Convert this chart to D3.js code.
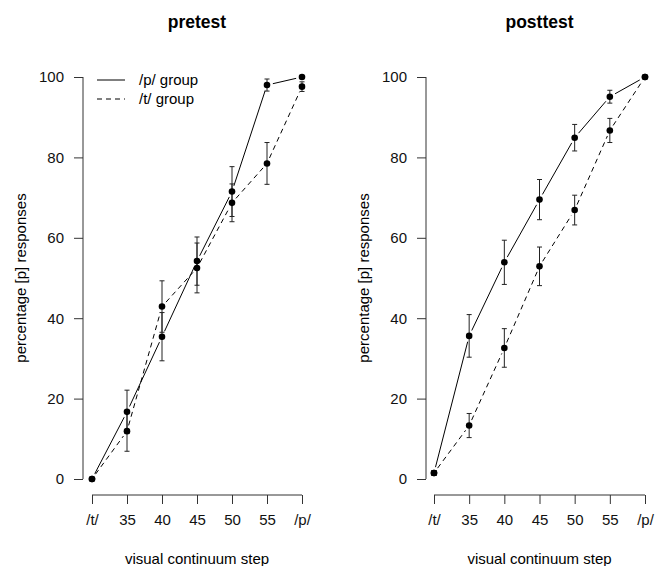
<!DOCTYPE html>
<html>
<head>
<meta charset="utf-8">
<script src="https://cdn.jsdelivr.net/npm/d3@7"></script>
<style>
  body { margin: 0; background: #fff; }
  svg { display: block; font-family: "Liberation Sans", Arial, Helvetica, sans-serif; }
</style>
</head>
<body>
<div id="chart"></div>
<script>
// continuum steps on the x axis
const steps = ["/t/", "35", "40", "45", "50", "55", "/p/"];
const yTicks = [0, 20, 40, 60, 80, 100];

// pretest, percentage [p] responses
const preP = [0, 16.7, 35.4, 54.2, 71.5, 98, 100];
const preT = [0, 11.9, 42.9, 52.5, 68.7, 78.5, 97.6];
const preErrP = [0, 5.4, 6, 6, 6.2, 1.5, 0];
const preErrT = [0, 5, 6.4, 6.2, 4.7, 5.2, 1.2];

// posttest
const postP = [1.5, 35.6, 53.9, 69.5, 84.9, 95.1, 100];
const postT = [1.5, 13.3, 32.6, 52.9, 66.9, 86.7, 100];
const postErrP = [0.6, 5.3, 5.5, 5, 3.3, 1.6, 0];
const postErrT = [0.6, 3, 4.8, 4.8, 3.7, 3, 0];

const groups = ["/p/ group", "/t/ group"];

const W = 655, H = 566;
const svg = d3.select("#chart").append("svg")
    .attr("width", W)
    .attr("height", H);

const panels = [
    { title: "pretest", x0: 92, x1: 302, axisX: 83, series: [preP, preT], errs: [preErrP, preErrT], legend: true },
    { title: "posttest", x0: 434, x1: 645, axisX: 426, series: [postP, postT], errs: [postErrP, postErrT], legend: false }
];

const y = d3.scaleLinear().domain([0, 100]).range([479, 77]);
const dashes = [null, "5,4"];

function drawPanel(p) {
    const g = svg.append("g");
    const x = d3.scalePoint().domain(steps).range([p.x0, p.x1]);

    // title
    g.append("text")
        .attr("x", (p.x0 + p.x1) / 2)
        .attr("y", 28)
        .attr("text-anchor", "middle")
        .style("font-size", "17.5px")
        .style("font-weight", "bold")
        .text(p.title);

    // y axis (R style: line only across the tick range)
    const yAxis = g.append("g")
        .attr("transform", "translate(" + p.axisX + ",0)")
        .call(d3.axisLeft(y).tickValues(yTicks).tickSize(9).tickPadding(10).tickSizeOuter(0));
    yAxis.select(".domain").attr("d", "M0," + y(0) + "V" + y(100)).attr("stroke", "#333");
    yAxis.selectAll(".tick line").attr("stroke", "#333");
    yAxis.selectAll(".tick text")
        .style("font-size", "15px")
        .attr("fill", "#111");

    g.append("text")
        .attr("transform", "translate(" + (p.axisX - 62) + "," + 278 + ") rotate(-90)")
        .attr("text-anchor", "middle")
        .attr("dy", "0.35em")
        .style("font-size", "15px")
        .text("percentage [p] responses");

    // x axis
    const xAxis = g.append("g")
        .attr("transform", "translate(0,495)")
        .call(d3.axisBottom(x).tickSize(9).tickPadding(10).tickSizeOuter(0));
    xAxis.select(".domain").attr("d", "M" + p.x0 + ",0H" + p.x1).attr("stroke", "#333");
    xAxis.selectAll(".tick line").attr("stroke", "#333");
    xAxis.selectAll(".tick text")
        .style("font-size", "15px")
        .attr("fill", "#111");

    g.append("text")
        .attr("x", (p.x0 + p.x1) / 2)
        .attr("y", 564)
        .attr("text-anchor", "middle")
        .style("font-size", "15px")
        .text("visual continuum step");

    // lines with gaps around points (type = "b")
    const gap = 6;
    p.series.forEach((vals, si) => {
        const pts = vals.map((v, i) => [x(steps[i]), y(v)]);
        for (let i = 0; i < pts.length - 1; i++) {
            const a = pts[i], b = pts[i + 1];
            const dx = b[0] - a[0], dy = b[1] - a[1];
            const len = Math.sqrt(dx * dx + dy * dy);
            if (len <= 2 * gap) continue;
            const ux = dx / len, uy = dy / len;
            g.append("line")
                .attr("x1", a[0] + ux * gap).attr("y1", a[1] + uy * gap)
                .attr("x2", b[0] - ux * gap).attr("y2", b[1] - uy * gap)
                .attr("stroke", "#000")
                .attr("stroke-width", 1)
                .attr("stroke-dasharray", dashes[si]);
        }
    });

    // error bars
    const cap = 2.5;
    p.series.forEach((vals, si) => {
        vals.forEach((v, i) => {
            const e = p.errs[si][i];
            if (!e) return;
            const cx = x(steps[i]);
            const top = y(v + e), bot = y(v - e);
            g.append("path")
                .attr("d", "M" + cx + "," + top + "V" + bot +
                    "M" + (cx - cap) + "," + top + "H" + (cx + cap) +
                    "M" + (cx - cap) + "," + bot + "H" + (cx + cap))
                .attr("stroke", "#222")
                .attr("fill", "none")
                .attr("stroke-width", 1);
        });
    });

    // points
    p.series.forEach((vals) => {
        g.selectAll(null)
            .data(vals)
            .enter()
            .append("circle")
            .attr("cx", (d, i) => x(steps[i]))
            .attr("cy", (d) => y(d))
            .attr("r", 3.3)
            .attr("fill", "#000");
    });

    if (p.legend) {
        const lg = g.append("g");
        groups.forEach((name, i) => {
            const ly = 80 + i * 19;
            lg.append("line")
                .attr("x1", 97).attr("x2", 125)
                .attr("y1", ly).attr("y2", ly)
                .attr("stroke", "#000")
                .attr("stroke-dasharray", dashes[i]);
            lg.append("text")
                .attr("x", 139)
                .attr("y", ly)
                .attr("dy", "0.35em")
                .style("font-size", "15px")
                .text(name);
        });
    }
}

panels.forEach(drawPanel);
</script>
</body>
</html>
